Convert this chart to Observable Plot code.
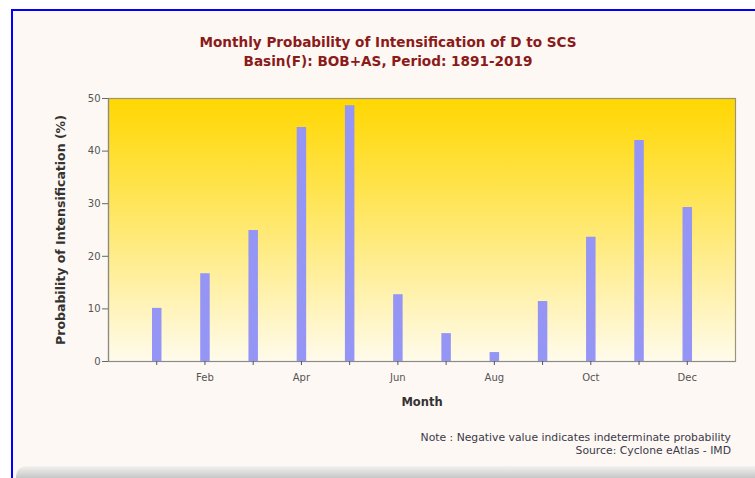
<!DOCTYPE html>
<html>
<head>
<meta charset="utf-8">
<script src="https://cdn.jsdelivr.net/npm/d3@7"></script>
<script src="https://cdn.jsdelivr.net/npm/@observablehq/plot@0.6"></script>
<style>
  html, body { margin: 0; padding: 0; background: #ffffff; width: 755px; height: 478px; overflow: hidden; }
  body { position: relative; font-family: "DejaVu Sans", Verdana, sans-serif; }
  #frame {
    position: absolute; left: 11px; top: 9px; width: 800px; height: 480px;
    border-left: 2px solid #0000ff; border-top: 2px solid #0000ff;
    background: #fdf8f3;
  }
  #shadow {
    position: absolute; left: 16px; top: 466px; width: 760px; height: 14px;
    background: linear-gradient(#f4f2f0, #cfcfcf 70%, #bdbdbd);
    border-radius: 10px 0 0 0;
  }
  #title {
    position: absolute; left: 0; top: 33px; width: 776px; text-align: center;
    color: #8b1a1a; font-weight: bold; font-size: 13.6px; line-height: 19px;
  }
  #chart { position: absolute; left: 0; top: 80px; }
  #note {
    position: absolute; right: 24px; top: 431px; text-align: right;
    color: #3a3a4a; font-size: 10.8px; line-height: 13px;
  }
</style>
</head>
<body>
<div id="frame"></div>
<div id="shadow"></div>
<div id="title">Monthly Probability of Intensification of D to SCS<br>Basin(F): BOB+AS, Period: 1891-2019</div>
<div id="chart"></div>
<div id="note">Note : Negative value indicates indeterminate probability<br>Source: Cyclone eAtlas - IMD</div>
<script>
const months = ["Jan","Feb","Mar","Apr","May","Jun","Jul","Aug","Sep","Oct","Nov","Dec"];
const monthNum = [1,2,3,4,5,6,7,8,9,10,11,12];
const probability = [10.1, 16.7, 24.9, 44.5, 48.6, 12.7, 5.3, 1.7, 11.4, 23.6, 42.0, 29.3];
const yTicks = [0, 10, 20, 30, 40, 50];

const data = monthNum.map((m, i) => ({month: m, name: months[i], value: probability[i]}));

function gradientDefs() {
  const ns = "http://www.w3.org/2000/svg";
  const defs = document.createElementNS(ns, "defs");
  const lg = document.createElementNS(ns, "linearGradient");
  lg.setAttribute("id", "bgGrad");
  lg.setAttribute("x1", "0"); lg.setAttribute("y1", "0");
  lg.setAttribute("x2", "0"); lg.setAttribute("y2", "1");
  [["0%", "#ffd700"], ["45%", "#ffe766"], ["100%", "#fffbec"]].forEach(([o, c]) => {
    const s = document.createElementNS(ns, "stop");
    s.setAttribute("offset", o); s.setAttribute("stop-color", c);
    lg.appendChild(s);
  });
  defs.appendChild(lg);
  return defs;
}

const tickFmt = d => (d % 2 === 0 ? months[d - 1] : "");

const chart = Plot.plot({
  width: 755,
  height: 340,
  marginLeft: 108,
  marginRight: 20,
  marginTop: 18,
  marginBottom: 59,
  style: {background: "transparent", fontFamily: "DejaVu Sans, Verdana, sans-serif", fontSize: "10px", color: "#444"},
  x: {domain: [0, 13], ticks: monthNum, tickFormat: tickFmt, tickSize: 4, label: null},
  y: {domain: [0, 50], ticks: yTicks, tickSize: 5, label: null},
  marks: [
    gradientDefs,
    Plot.frame({fill: "url(#bgGrad)", stroke: "#9a9478", strokeWidth: 1.2}),
    Plot.ruleX(data, {x: "month", y1: 0, y2: "value", stroke: "#9595f5", strokeWidth: 9.5}),
    Plot.ruleY([0], {stroke: "#8a8a8a", strokeWidth: 1.2}),
    Plot.ruleX([0], {stroke: "#8a8a8a", strokeWidth: 1.2}),
    Plot.axisY({ticks: yTicks, tickSize: 6, tickPadding: 2, stroke: "#666", fill: "#555", fontSize: 10}),
    Plot.axisX({ticks: monthNum, tickSize: 4, tickPadding: 8, stroke: "#555", fill: "#555", fontSize: 10, tickFormat: tickFmt}),
    Plot.text(["Probability of Intensification (%)"], {frameAnchor: "left", dx: -48, rotate: -90, textAnchor: "middle", fontWeight: "bold", fontSize: 12.5, fill: "#333"}),
    Plot.text(["Month"], {frameAnchor: "bottom", dy: 44, fontWeight: "bold", fontSize: 11.5, fill: "#333"})
  ]
});
document.getElementById("chart").appendChild(chart);
</script>
</body>
</html>
